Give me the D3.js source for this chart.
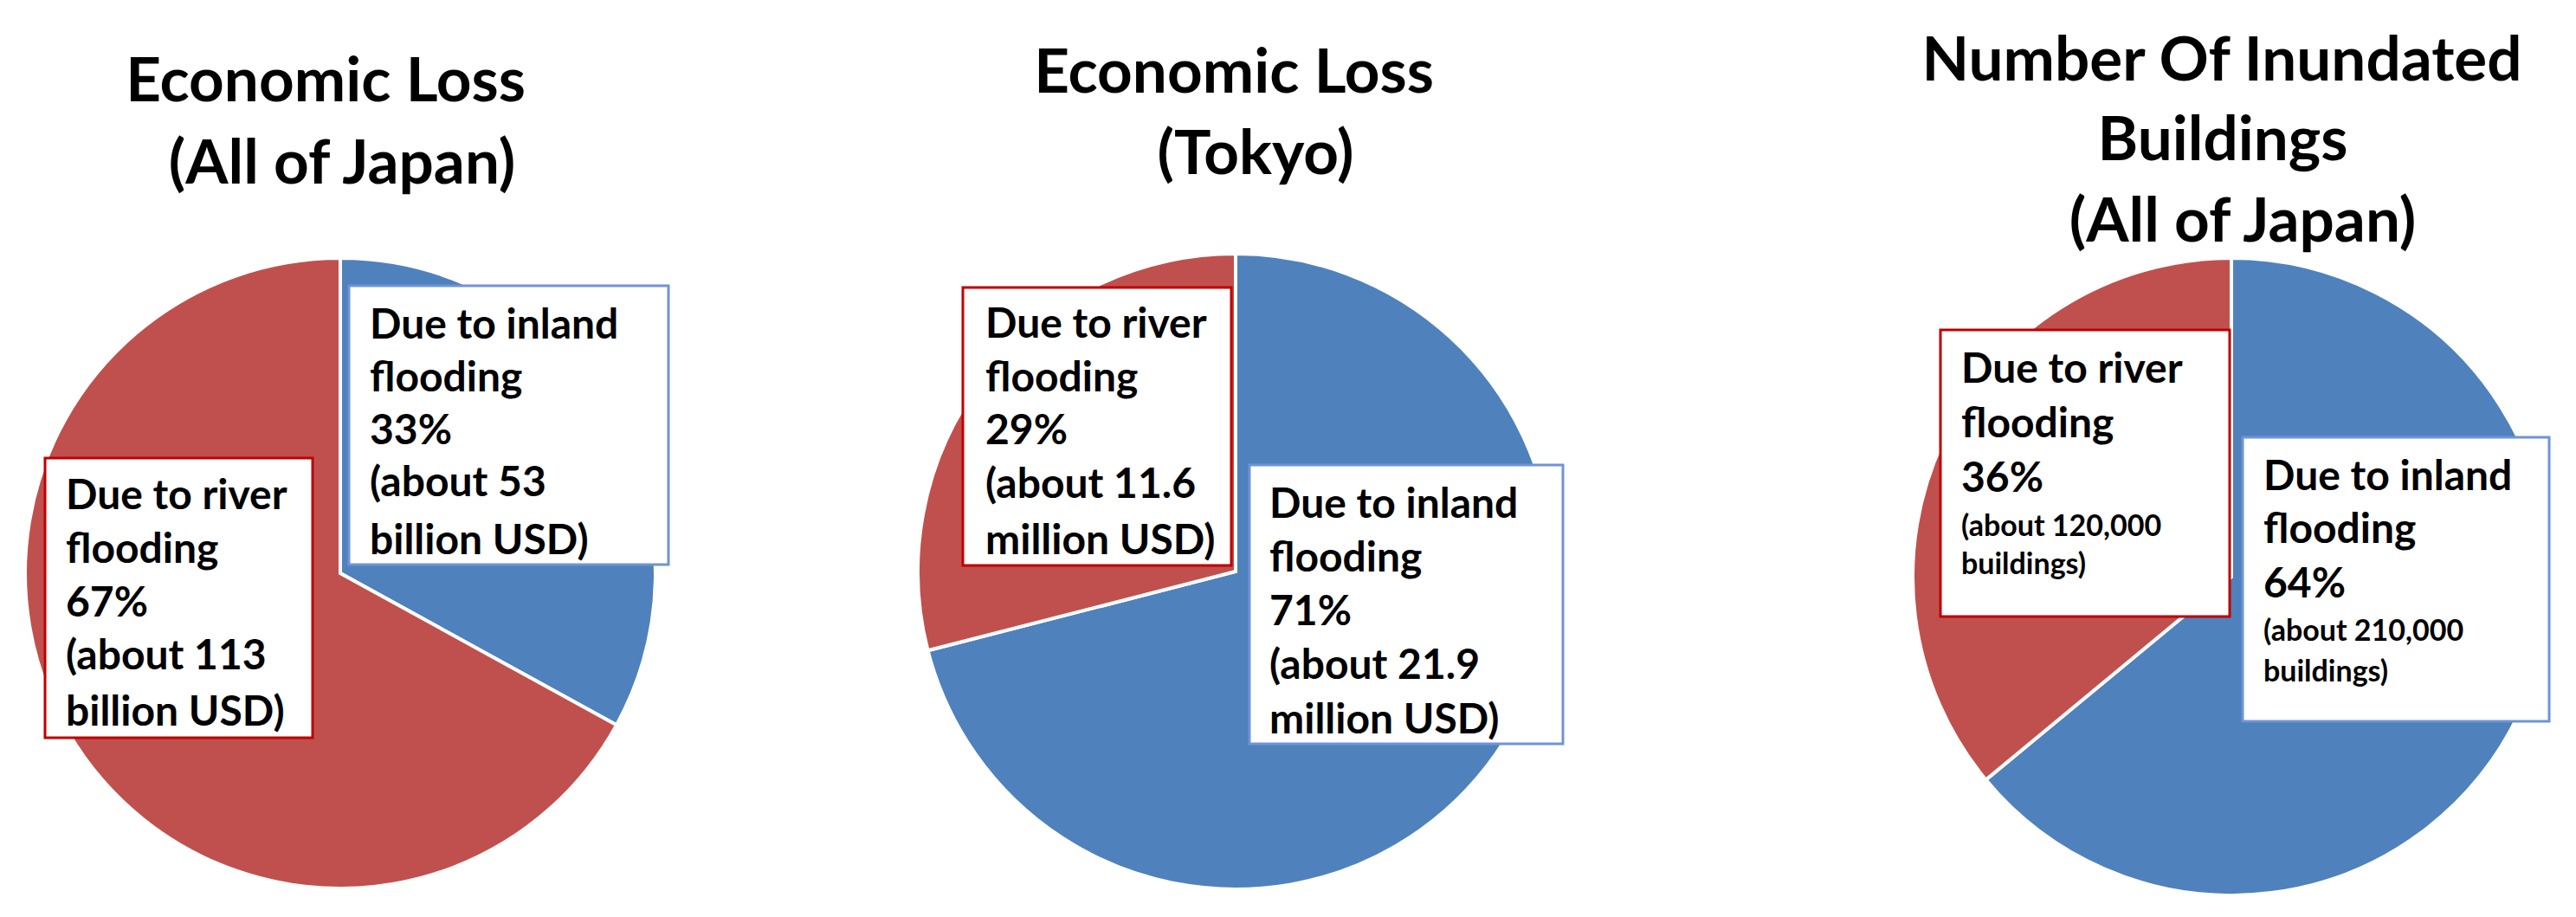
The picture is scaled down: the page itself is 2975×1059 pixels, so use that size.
<!DOCTYPE html>
<html><head><meta charset="utf-8">
<script src="https://cdn.jsdelivr.net/npm/d3@7"></script>
<style>html,body{margin:0;padding:0;background:#fff;} svg{display:block}</style>
</head><body>
<svg id="chart" width="2975" height="1059"></svg>
<script>
// ---- data ----
const chartTitles = [
  ["Economic Loss", "(All of Japan)"],
  ["Economic Loss", "(Tokyo)"],
  ["Number Of Inundated", "Buildings", "(All of Japan)"]
];
const categories = ["Due to inland flooding", "Due to river flooding"];
const inlandShare = [33, 71, 64];
const riverShare = [67, 29, 36];
const inlandLabels = [
  ["Due to inland", "flooding", "33%", "(about 53", "billion USD)"],
  ["Due to inland", "flooding", "71%", "(about 21.9", "million USD)"],
  ["Due to inland", "flooding", "64%", "(about 210,000", "buildings)"]
];
const riverLabels = [
  ["Due to river", "flooding", "67%", "(about 113", "billion USD)"],
  ["Due to river", "flooding", "29%", "(about 11.6", "million USD)"],
  ["Due to river", "flooding", "36%", "(about 120,000", "buildings)"]
];

// ---- layout / style ----
const colors = {"Due to inland flooding": "#4F81BD", "Due to river flooding": "#C0504D"};
const boxStroke = {"Due to inland flooding": "#6F94D6", "Due to river flooding": "#C00000"};
const layout = [
  {cx: 393, cy: 662, r: 364,
   title: {x: [376, 395], y: [117, 212]},
   boxes: [{x: 403, y: 330, w: 369, h: 322, tx: 427, ty: [391, 452, 513, 573, 640]},
           {x: 52, y: 529, w: 309, h: 323, tx: 76, ty: [588, 650, 712, 773, 838]}],
   smallFrom: 99},
  {cx: 1427, cy: 660, r: 367,
   title: {x: [1425, 1450], y: [107, 201]},
   boxes: [{x: 1443, y: 537, w: 362, h: 322, tx: 1466, ty: [598, 660, 722, 784, 847]},
           {x: 1112, y: 332, w: 310, h: 321, tx: 1138, ty: [390, 452, 513, 575, 640]}],
   smallFrom: 99},
  {cx: 2577, cy: 666, r: 368,
   title: {x: [2566, 2567, 2590], y: [93, 185, 279]},
   boxes: [{x: 2590, y: 505, w: 354, h: 328, tx: 2614, ty: [566, 627, 690, 740, 787]},
           {x: 2241, y: 381, w: 334, h: 331, tx: 2265, ty: [442, 505, 568, 619, 663]}],
   smallFrom: 3}
];
const FONT = "Lato, 'Open Sans', sans-serif";
const titleSize = 71, bigSize = 48, smallSize = 34;

const svg = d3.select("#chart");
const pie = d3.pie().sort(null).value(d => d.value);

layout.forEach((L, i) => {
  const data = [
    {cat: categories[0], value: inlandShare[i], lines: inlandLabels[i]},
    {cat: categories[1], value: riverShare[i], lines: riverLabels[i]}
  ];
  const arc = d3.arc().innerRadius(0).outerRadius(L.r);
  const g = svg.append("g").attr("transform", `translate(${L.cx},${L.cy})`);
  g.selectAll("path").data(pie(data)).join("path")
    .attr("d", arc)
    .attr("fill", d => colors[d.data.cat])
    .attr("stroke", "#fff").attr("stroke-width", 4).attr("stroke-linejoin", "miter");

  // title
  const t = svg.append("text")
    .attr("font-family", FONT).attr("font-weight", 700)
    .attr("font-size", titleSize).attr("fill", "#000").attr("text-anchor", "middle");
  chartTitles[i].forEach((line, k) => {
    t.append("tspan").attr("x", L.title.x[k]).attr("y", L.title.y[k]).text(line);
  });

  // label boxes
  data.forEach((d, j) => {
    const B = L.boxes[j];
    svg.append("rect")
      .attr("x", B.x).attr("y", B.y).attr("width", B.w).attr("height", B.h)
      .attr("fill", "#fff").attr("stroke", boxStroke[d.cat]).attr("stroke-width", 3);
    const tx = svg.append("text").attr("font-family", FONT).attr("font-weight", 700).attr("fill", "#000");
    d.lines.forEach((line, k) => {
      tx.append("tspan").attr("x", B.tx).attr("y", B.ty[k])
        .attr("font-size", k >= L.smallFrom ? smallSize : bigSize)
        .text(line);
    });
  });
});
</script>
</body></html>
